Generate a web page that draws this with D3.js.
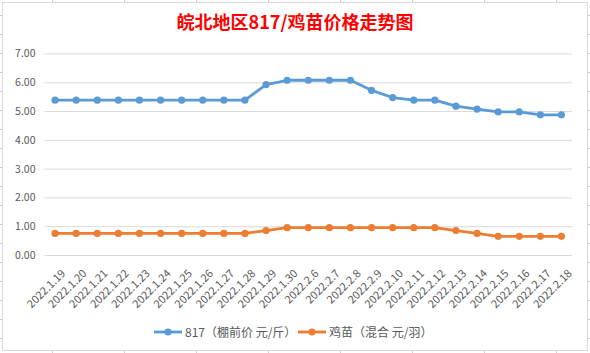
<!DOCTYPE html>
<html>
<head>
<meta charset="utf-8">
<script src="https://cdnjs.cloudflare.com/ajax/libs/d3/7.8.5/d3.min.js"></script>
<style>
  body { margin: 0; background: #fff; }
  text { font-family: "Noto Sans CJK SC", "Noto Sans", sans-serif; }
</style>
</head>
<body>
<div id="chart"></div>
<script>
// 数据
const dates = ["2022.1.19", "2022.1.20", "2022.1.21", "2022.1.22", "2022.1.23", "2022.1.24",
  "2022.1.25", "2022.1.26", "2022.1.27", "2022.1.28", "2022.1.29", "2022.1.30",
  "2022.2.6", "2022.2.7", "2022.2.8", "2022.2.9", "2022.2.10", "2022.2.11", "2022.2.12",
  "2022.2.13", "2022.2.14", "2022.2.15", "2022.2.16", "2022.2.17", "2022.2.18"];
const price817 = [5.38, 5.38, 5.38, 5.38, 5.38, 5.38, 5.38, 5.38, 5.38, 5.38, 5.92, 6.07,
  6.07, 6.07, 6.07, 5.72, 5.47, 5.38, 5.38, 5.17, 5.07, 4.97, 4.97, 4.87, 4.87];
const chickPrice = [0.75, 0.75, 0.75, 0.75, 0.75, 0.75, 0.75, 0.75, 0.75, 0.75, 0.85, 0.95,
  0.95, 0.95, 0.95, 0.95, 0.95, 0.95, 0.95, 0.85, 0.75, 0.65, 0.65, 0.65, 0.65];
const yTicks = [0, 1, 2, 3, 4, 5, 6, 7];
const seriesNames = ["817（棚前价 元/斤）", "鸡苗（混合 元/羽）"];
const colors = ["#5b9bd5", "#ed7d31"];

const W = 590, H = 353;
const svg = d3.select("#chart").append("svg")
  .attr("width", W).attr("height", H);

// 表格背景的刻度线
const sheet = svg.append("g").attr("stroke", "#c9c9dd").attr("stroke-width", 1);
d3.range(52.5, W, 72).forEach(x => {
  sheet.append("line").attr("x1", x).attr("x2", x).attr("y1", 0).attr("y2", 2);
  sheet.append("line").attr("x1", x).attr("x2", x).attr("y1", 351).attr("y2", H);
});
d3.range(15.5, H, 19).forEach(y => {
  sheet.append("line").attr("x1", 0).attr("x2", 2).attr("y1", y).attr("y2", y);
  sheet.append("line").attr("x1", 588).attr("x2", W).attr("y1", y).attr("y2", y);
});

// 图表边框
svg.append("rect")
  .attr("x", 2.5).attr("y", 2.5).attr("width", 585).attr("height", 348)
  .attr("fill", "#fff").attr("stroke", "#d9d9d9");

// 标题
svg.append("text")
  .attr("x", 295).attr("y", 29)
  .attr("text-anchor", "middle")
  .attr("font-size", 18).attr("font-weight", "bold")
  .attr("fill", "#ff0000")
  .text("皖北地区817/鸡苗价格走势图");

// 比例尺
const x = d3.scaleBand().domain(dates).range([44.5, 572]).padding(0);
const y = d3.scaleLinear().domain([0, 7]).range([255, 53.5]);
const cx = d => x(d) + x.bandwidth() / 2;

// 网格线和y轴
const yAxis = svg.append("g")
  .attr("transform", "translate(44.5,0)")
  .call(d3.axisLeft(y).tickValues(yTicks).tickFormat(d3.format(".2f"))
    .tickSize(-(572 - 44.5)).tickPadding(9));
yAxis.select(".domain").remove();
yAxis.selectAll("line").attr("stroke", "#d9d9d9");
yAxis.selectAll("text").attr("fill", "#595959").attr("font-size", 10.5);

// x轴
const xAxis = svg.append("g")
  .attr("transform", "translate(0,255)")
  .call(d3.axisBottom(x).tickSize(0));
xAxis.select(".domain").remove();
xAxis.selectAll("text")
  .attr("fill", "#595959").attr("font-size", 11)
  .style("text-anchor", "end")
  .attr("dy", 0)
  .attr("transform", "translate(9,17) rotate(-45)");

// 折线
const line = d3.line().x((d, i) => cx(dates[i])).y(d => y(d));
[price817, chickPrice].forEach((vals, k) => {
  svg.append("path").datum(vals)
    .attr("fill", "none").attr("stroke", colors[k])
    .attr("stroke-width", 2.8).attr("stroke-linejoin", "round")
    .attr("d", line);
  svg.selectAll(".pt" + k).data(vals).enter().append("circle")
    .attr("cx", (d, i) => cx(dates[i])).attr("cy", d => y(d))
    .attr("r", 3.6).attr("fill", colors[k]);
});

// 图例
const legendX = [154, 298];
seriesNames.forEach((name, k) => {
  const g = svg.append("g").attr("transform", `translate(${legendX[k]},332)`);
  g.append("line").attr("x1", 0).attr("x2", 28).attr("stroke", colors[k]).attr("stroke-width", 2.8);
  g.append("circle").attr("cx", 14).attr("r", 3.6).attr("fill", colors[k]);
  g.append("text").attr("x", 31).attr("y", 4.5)
    .attr("font-size", 12).attr("fill", "#595959").text(name);
});
</script>
</body>
</html>
